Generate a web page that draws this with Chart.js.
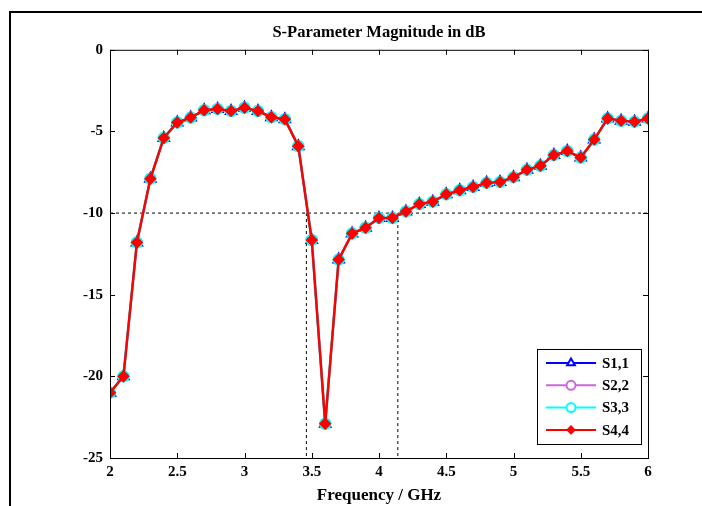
<!DOCTYPE html>
<html>
<head>
<meta charset="utf-8">
<script src="https://cdn.jsdelivr.net/npm/chart.js@4"></script>
<style>
  html, body { margin: 0; padding: 0; background: #fff; }
  canvas { display: block; }
</style>
</head>
<body>
<canvas id="chart" width="702" height="506"></canvas>
<script>
// frequency points (GHz)
const freqs = [2.0, 2.1, 2.2, 2.3, 2.4, 2.5, 2.6, 2.7, 2.8, 2.9,
               3.0, 3.1, 3.2, 3.3, 3.4, 3.5, 3.6, 3.7, 3.8, 3.9,
               4.0, 4.1, 4.2, 4.3, 4.4, 4.5, 4.6, 4.7, 4.8, 4.9,
               5.0, 5.1, 5.2, 5.3, 5.4, 5.5, 5.6, 5.7, 5.8, 5.9, 6.0];

// magnitude in dB, all four ports overlap in the picture
const s11 = [-21.0, -20.0, -11.8, -7.9, -5.4, -4.45, -4.15, -3.7, -3.62, -3.75,
             -3.55, -3.75, -4.13, -4.25, -5.9, -11.65, -22.9, -12.85, -11.25, -10.9,
             -10.3, -10.3, -9.9, -9.45, -9.3, -8.85, -8.6, -8.4, -8.15, -8.1,
             -7.8, -7.35, -7.1, -6.45, -6.2, -6.6, -5.5, -4.2, -4.35, -4.4, -4.2];
const s22 = s11.slice();
const s33 = s11.slice();
const s44 = s11.slice();

// -10 dB threshold and band edges (GHz)
const threshold = -10;
const bandEdges = [3.46, 4.14];

const xTicks = [2, 2.5, 3, 3.5, 4, 4.5, 5, 5.5, 6];
const yTicks = [0, -5, -10, -15, -20, -25];

const serif = '"Liberation Serif", "DejaVu Serif", serif';

function pts(ys) {
    return freqs.map((f, i) => ({ x: f, y: ys[i] }));
}

const series = [
    { label: 'S1,1', data: pts(s11), borderColor: '#0000ff', backgroundColor: '#0000ff',
      pointStyle: 'triangle', pointRadius: 6, borderWidth: 2, order: 4, legendFill: false },
    { label: 'S2,2', data: pts(s22), borderColor: '#cc66dd', backgroundColor: '#cc66dd',
      pointStyle: 'circle', pointRadius: 4, borderWidth: 1.5, order: 3, legendFill: false },
    { label: 'S3,3', data: pts(s33), borderColor: '#00ffff', backgroundColor: '#00ffff',
      pointStyle: 'circle', pointRadius: 5, borderWidth: 2.5, order: 2, legendFill: false },
    { label: 'S4,4', data: pts(s44), borderColor: '#ff0000', backgroundColor: '#ff0000',
      pointStyle: 'rectRot', pointRadius: 4.5, borderWidth: 2.5, order: 1, legendFill: true },
];

const refLines = [
    { data: [{ x: 2, y: threshold }, { x: 6, y: threshold }] },
    { data: [{ x: bandEdges[0], y: threshold }, { x: bandEdges[0], y: -25 }] },
    { data: [{ x: bandEdges[1], y: threshold }, { x: bandEdges[1], y: -25 }] },
].map(d => Object.assign(d, {
    borderColor: '#000', borderWidth: 1, borderDash: [3, 3], pointRadius: 0,
    order: 10, isRef: true
}));

// box, inward ticks, outer frame and legend
const decor = {
    id: 'decor',
    afterLayout(chart) {
        // centre the title over the plot area, as in the original
        const t = chart.titleBlock;
        if (t) { t.left = chart.chartArea.left; t.right = chart.chartArea.right; }
    },
    afterDraw(chart) {
        const c = chart.ctx;
        const a = chart.chartArea;
        const xs = chart.scales.x, ys = chart.scales.y;
        c.save();
        c.strokeStyle = '#000';
        c.lineWidth = 1;
        c.strokeRect(a.left + 0.5, a.top + 0.5, a.right - a.left, a.bottom - a.top);
        c.beginPath();
        xTicks.forEach(v => {
            const px = Math.round(xs.getPixelForValue(v)) + 0.5;
            c.moveTo(px, a.bottom); c.lineTo(px, a.bottom - 5);
            c.moveTo(px, a.top); c.lineTo(px, a.top + 5);
        });
        yTicks.forEach(v => {
            const py = Math.round(ys.getPixelForValue(v)) + 0.5;
            c.moveTo(a.left, py); c.lineTo(a.left + 5, py);
            c.moveTo(a.right, py); c.lineTo(a.right - 5, py);
        });
        c.stroke();

        // outer frame
        c.lineWidth = 2;
        c.beginPath();
        c.moveTo(10, chart.height); c.lineTo(10, 12); c.lineTo(chart.width, 12);
        c.stroke();

        // legend
        const lx = 537, ly = 349, lw = 104, lh = 95;
        c.fillStyle = '#fff';
        c.fillRect(lx, ly, lw, lh);
        c.lineWidth = 1;
        c.strokeRect(lx + 0.5, ly + 0.5, lw, lh);
        c.font = 'bold 15px ' + serif;
        c.textBaseline = 'middle';
        chart.data.datasets.filter(d => !d.isRef).forEach((d, i) => {
            const y = ly + 14 + i * 22.3;
            c.strokeStyle = d.borderColor;
            c.lineWidth = 2;
            c.beginPath(); c.moveTo(546, y); c.lineTo(596, y); c.stroke();
            c.fillStyle = d.legendFill ? d.borderColor : '#fff';
            Chart.helpers.drawPoint(c, {
                pointStyle: d.pointStyle, radius: d.legendFill ? 3.5 : 4.5,
                borderWidth: d.legendFill ? 1 : 1.5, rotation: 0
            }, 571, y);
            if (d.legendFill) c.fill();
            c.fillStyle = '#000';
            c.fillText(d.label, 602, y + 1);
        });
        c.restore();
    }
};

new Chart(document.getElementById('chart'), {
    type: 'line',
    data: { datasets: series.concat(refLines) },
    options: {
        responsive: false,
        animation: false,
        devicePixelRatio: 1,
        layout: { padding: { top: 14, right: 54, bottom: 0, left: 0 } },
        elements: { line: { tension: 0 } },
        plugins: {
            legend: { display: false },
            tooltip: { enabled: false },
            title: {
                display: true,
                text: 'S-Parameter Magnitude in dB',
                color: '#000',
                font: { family: serif, size: 16.5, weight: 'bold' },
                padding: { top: 9, bottom: 7 }
            }
        },
        scales: {
            x: {
                type: 'linear', min: 2, max: 6,
                afterBuildTicks: s => { s.ticks = xTicks.map(v => ({ value: v })); },
                afterFit: s => { s.height = 48; },
                grid: { display: false, drawTicks: false },
                border: { display: false },
                ticks: { color: '#000', padding: 5, maxRotation: 0,
                         callback: v => String(v),
                         font: { family: serif, size: 15, weight: 'bold' } },
                title: { display: true, text: 'Frequency / GHz', color: '#000',
                         padding: 0, font: { family: serif, size: 17, weight: 'bold' } }
            },
            y: {
                type: 'linear', min: -25, max: 0,
                afterBuildTicks: s => { s.ticks = yTicks.map(v => ({ value: v })); },
                afterFit: s => { s.width = 110; },
                grid: { display: false, drawTicks: false },
                border: { display: false },
                ticks: { color: '#000', padding: 7,
                         callback: v => String(v),
                         font: { family: serif, size: 15, weight: 'bold' } }
            }
        }
    },
    plugins: [decor]
});
</script>
</body>
</html>
